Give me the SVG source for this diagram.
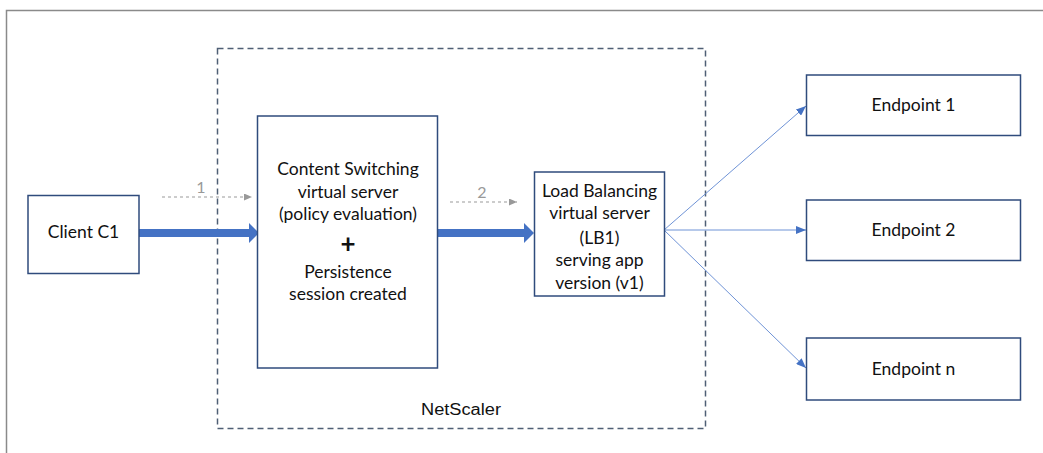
<svg xmlns="http://www.w3.org/2000/svg" width="1043" height="453" viewBox="0 0 1043 453">
<style>
.box{fill:#fff;stroke:#2F4B7C;stroke-width:1.5}
.t{font-family:Lato,"Open Sans","Liberation Sans",sans-serif;font-size:17.5px;fill:#111;text-anchor:middle}
.plus{font-size:26px;font-weight:bold}
.thick{stroke:#4472C4;stroke-width:8;fill:none}
.thin{stroke:#6F93D6;stroke-width:1;fill:none}
.dash{stroke:#999;stroke-width:1;stroke-dasharray:3 3;fill:none}
.lbl{font-family:Lato,"Liberation Sans",sans-serif;font-size:16px;fill:#999;text-anchor:middle}
</style>
<defs>
<marker id="big" markerWidth="10" markerHeight="20" refX="0" refY="10" orient="auto" markerUnits="userSpaceOnUse"><path d="M0,0 L10,10 L0,20 Z" fill="#4472C4"/></marker>
<marker id="small" markerWidth="10" markerHeight="8" refX="10" refY="4" orient="auto" markerUnits="userSpaceOnUse"><path d="M0,0 L10,4 L0,8 Z" fill="#4472C4"/></marker>
<marker id="gray" markerWidth="8" markerHeight="7" refX="8" refY="3.5" orient="auto" markerUnits="userSpaceOnUse"><path d="M0,0 L8,3.5 L0,7 Z" fill="#999"/></marker>
</defs>
<rect width="1043" height="453" fill="#fff"/>
<path d="M6.5,453 V10.5 H1043" fill="none" stroke="#8a8a8a" stroke-width="1.5"/>
<g id="netscaler">
<rect x="217.5" y="48.5" width="488" height="380" fill="none" stroke="#4F5F75" stroke-width="1.5" stroke-dasharray="6 4"/>
<text x="461" y="415" font-family="'Liberation Sans',Arial,sans-serif" font-size="16" fill="#111" text-anchor="middle" textLength="80" lengthAdjust="spacingAndGlyphs">NetScaler</text>
</g>
<g id="connectors">
<line class="thick" x1="139" y1="233" x2="249" y2="233" marker-end="url(#big)"/>
<line class="thick" x1="438" y1="233" x2="524" y2="233" marker-end="url(#big)"/>
<line class="dash" x1="162" y1="197" x2="252" y2="197" marker-end="url(#gray)"/>
<text class="lbl" x="201" y="193">1</text>
<line class="dash" x1="450" y1="202" x2="517" y2="202" marker-end="url(#gray)"/>
<text class="lbl" x="482" y="198">2</text>
<line class="thin" x1="664" y1="230" x2="806" y2="106" marker-end="url(#small)"/>
<line class="thin" x1="664" y1="230" x2="806" y2="230" marker-end="url(#small)"/>
<line class="thin" x1="664" y1="230" x2="806" y2="368" marker-end="url(#small)"/>
</g>
<g id="client">
<rect class="box" x="28" y="195.5" width="111" height="78"/>
<text class="t" x="83.5" y="238">Client C1</text>
</g>
<g id="cs">
<rect class="box" x="257.5" y="116" width="180" height="252"/>
<text class="t" x="348" y="175">Content Switching</text>
<text class="t" x="348" y="198">virtual server</text>
<text class="t" x="348" y="220">(policy evaluation)</text>
<text class="t plus" x="348" y="253">+</text>
<text class="t" x="348" y="278">Persistence</text>
<text class="t" x="348" y="300">session created</text>
</g>
<g id="lb">
<rect class="box" x="534.5" y="172" width="130" height="124"/>
<text class="t" x="599.5" y="197">Load Balancing</text>
<text class="t" x="599.5" y="219">virtual server</text>
<text class="t" x="599.5" y="244">(LB1)</text>
<text class="t" x="599.5" y="266">serving app</text>
<text class="t" x="599.5" y="289">version (v1)</text>
</g>
<g id="ep1">
<rect class="box" x="806.5" y="75" width="214" height="60.5"/>
<text class="t" x="913.5" y="111">Endpoint 1</text>
</g>
<g id="ep2">
<rect class="box" x="806.5" y="200" width="214" height="60.5"/>
<text class="t" x="913.5" y="236">Endpoint 2</text>
</g>
<g id="epn">
<rect class="box" x="806.5" y="338" width="214" height="62"/>
<text class="t" x="913.5" y="375">Endpoint n</text>
</g>
</svg>
